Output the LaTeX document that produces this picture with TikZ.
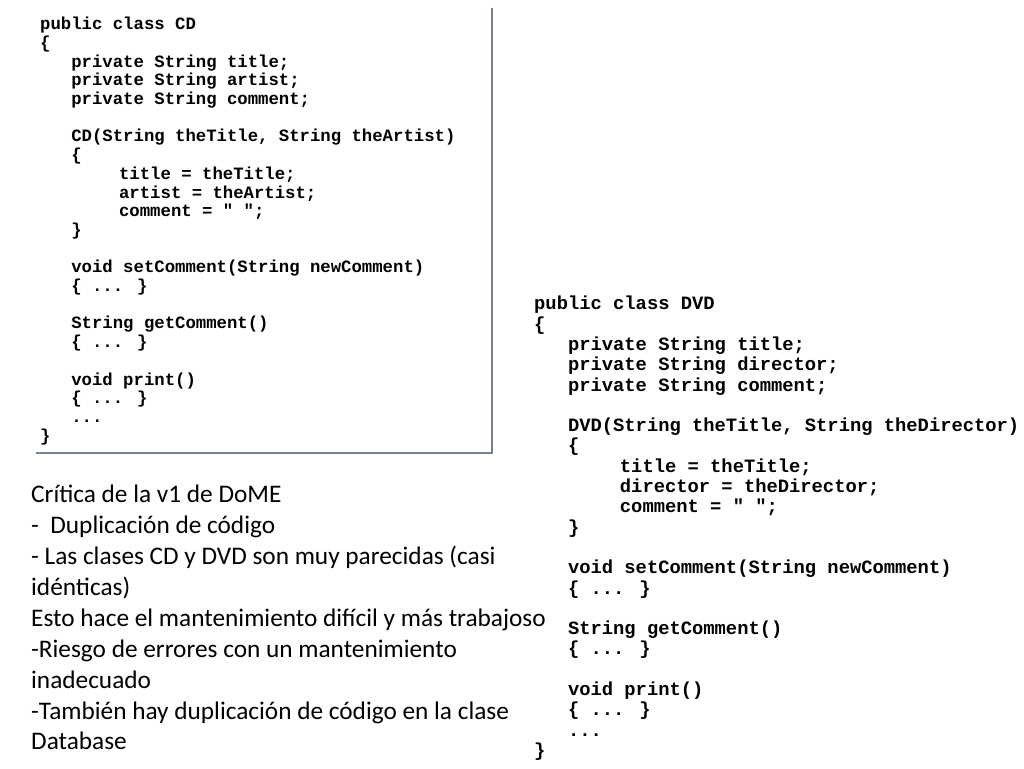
\documentclass[tikz,border=0pt]{standalone}
\usepackage{fontspec}
\setmainfont{Carlito}
\newfontfamily\codefont{Liberation Mono}
\usepackage{tikz}
\definecolor{framegray}{RGB}{120,130,145}
\newcommand{\ind}[1]{\hspace*{#1\fontcharwd\font`x}}

\begin{document}
\begin{tikzpicture}[x=1pt,y=-1pt,
    codeblock/.style={anchor=north west,inner sep=0pt,align=left},
    notes/.style={anchor=north west,inner sep=0pt,align=left,
        font=\fontsize{25.3}{30.9}\selectfont}]
    \useasboundingbox (0,0) rectangle (1024,768);
    % CD class, framed on two sides
    \draw[framegray,line width=1.4pt] (492,8) -- (492,453) -- (36,453);
    \node[codeblock,font={\codefont\bfseries\fontsize{17.3}{18.7}\selectfont}] (cd) at (40,17) {%
        public class CD\\
        \{\\
        \ind{3}private String title;\\
        \ind{3}private String artist;\\
        \ind{3}private String comment;\\[18.7pt]
        \ind{3}CD(String theTitle, String theArtist)\\
        \ind{3}\{\\
        \ind{7.6}title = theTitle;\\
        \ind{7.6}artist = theArtist;\\
        \ind{7.6}comment = "~";\\
        \ind{3}\}\\[18.7pt]
        \ind{3}void setComment(String newComment)\\
        \ind{3}\{ ... \}\\[18.7pt]
        \ind{3}String getComment()\\
        \ind{3}\{ ... \}\\[18.7pt]
        \ind{3}void print()\\
        \ind{3}\{ ... \}\\
        \ind{3}...\\
        \}};
    % DVD class
    \node[codeblock,font={\codefont\bfseries\fontsize{18.8}{20.3}\selectfont}] (dvd) at (534,296) {%
        public class DVD\\
        \{\\
        \ind{3}private String title;\\
        \ind{3}private String director;\\
        \ind{3}private String comment;\\[20.3pt]
        \ind{3}DVD(String theTitle, String theDirector)\\
        \ind{3}\{\\
        \ind{7.6}title = theTitle;\\
        \ind{7.6}director = theDirector;\\
        \ind{7.6}comment = "~";\\
        \ind{3}\}\\[20.3pt]
        \ind{3}void setComment(String newComment)\\
        \ind{3}\{ ... \}\\[20.3pt]
        \ind{3}String getComment()\\
        \ind{3}\{ ... \}\\[20.3pt]
        \ind{3}void print()\\
        \ind{3}\{ ... \}\\
        \ind{3}...\\
        \}};
    % critique
    \node[notes] (critica) at (31,485) {%
        Crítica de la v1 de DoME\\
        -\ \ Duplicación de código\\
        - Las clases CD y DVD son muy parecidas (casi\\
        idénticas)\\
        Esto hace el mantenimiento difícil y más trabajoso\\
        -Riesgo de errores con un mantenimiento\\
        inadecuado\\
        -También hay duplicación de código en la clase\\
        Database};
\end{tikzpicture}
\end{document}
